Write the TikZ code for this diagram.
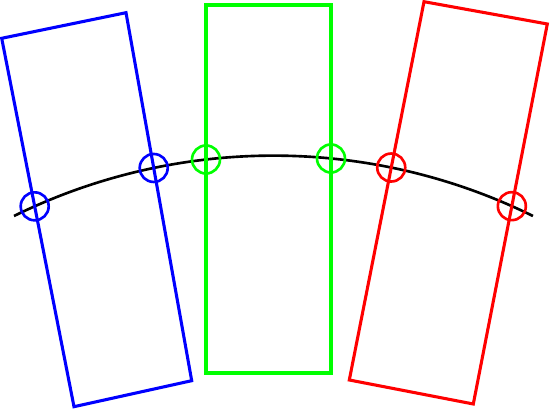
\documentclass[tikz,border=0pt]{standalone}
\usetikzlibrary{intersections}
\begin{document}
\begin{tikzpicture}[
        frame/.style={line width=1.75pt, line join=miter},
        mark ring/.style={circle, draw, line width=1.5pt, minimum size=0.56cm, inner sep=0pt}
    ]
        \useasboundingbox (0,0) rectangle (11,8.18);

        % the arc
        \draw[line width=1.5pt, name path=arc] (0.28,3.86) arc[start angle=116.2, end angle=63.8, radius=11.754];

        % tilted and upright frames
        \draw[frame, blue, name path=left] (0.034,7.414) -- (2.52,7.926) -- (3.834,0.566) -- (1.48,0.046) -- cycle;
        \draw[frame, green, name path=middle] (4.12,8.08) rectangle (6.62,0.72);
        \draw[frame, red, name path=right] (8.48,8.146) -- (10.946,7.70) -- (9.466,0.10) -- (6.986,0.58) -- cycle;

        % rings where the arc crosses the frames
        \path[name intersections={of=arc and left, name=l}];
        \path[name intersections={of=arc and middle, name=m}];
        \path[name intersections={of=arc and right, name=r}];
        \node[mark ring, blue] (ring l1) at (l-1) {};
        \node[mark ring, blue] (ring l2) at (l-2) {};
        \node[mark ring, green] (ring m1) at (m-1) {};
        \node[mark ring, green] (ring m2) at (m-2) {};
        \node[mark ring, red] (ring r1) at (r-1) {};
        \node[mark ring, red] (ring r2) at (r-2) {};
    \end{tikzpicture}
\end{document}
